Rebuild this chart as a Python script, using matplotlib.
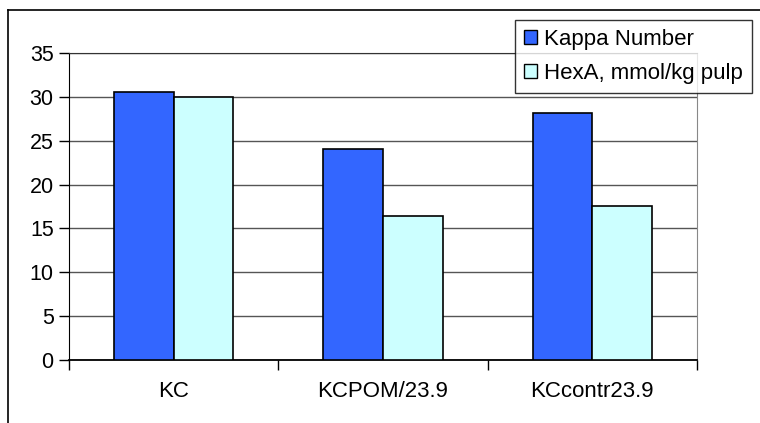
import matplotlib
matplotlib.use("Agg")
import matplotlib.pyplot as plt
from matplotlib.lines import Line2D
from matplotlib.patches import Patch
import numpy as np

categories = ["KC", "KCPOM/23.9", "KCcontr23.9"]
kappa_number = [30.6, 24.0, 28.2]
hexa_mmol = [30.0, 16.4, 17.6]
series_names = ["Kappa Number", "HexA, mmol/kg pulp"]
y_ticks = [0, 5, 10, 15, 20, 25, 30, 35]

plt.rcParams["font.family"] = ["Liberation Sans", "DejaVu Sans"]

W, H = 760, 423
fig = plt.figure(figsize=(W / 100, H / 100), dpi=100)
ax = fig.add_axes([69 / W, 1 - 360 / H, (697 - 69) / W, (360 - 53) / H])

x = np.arange(len(categories))
bw = 0.285
ax.bar(x - bw / 2, kappa_number, bw, color="#3366ff", edgecolor="black",
       linewidth=1.2, zorder=3)
ax.bar(x + bw / 2, hexa_mmol, bw, color="#ccffff", edgecolor="black",
       linewidth=1.2, zorder=3)

ax.set_xlim(-0.5, len(categories) - 0.5)
ax.set_ylim(0, 35)
ax.set_yticks(y_ticks)
ax.yaxis.grid(True, color="#555555", linewidth=1, zorder=0)
ax.tick_params(axis="y", labelsize=15.5, length=7, width=1, direction="out",
               pad=4)

# category ticks sit on the group boundaries, labels in the middle
ax.set_xticks(np.arange(len(categories) + 1) - 0.5)
ax.set_xticklabels([])
ax.set_xticks(x, minor=True)
ax.set_xticklabels(categories, minor=True)
ax.tick_params(axis="x", which="major", length=7, width=1, direction="out")
ax.tick_params(axis="x", which="minor", length=0, labelsize=16, pad=15)

ax.spines["left"].set_color("black")
ax.spines["bottom"].set_color("black")
ax.spines["bottom"].set_linewidth(1.3)
ax.spines["top"].set_color("#333333")
ax.spines["right"].set_color("#888888")

handles = [Patch(facecolor="#3366ff", edgecolor="black"),
           Patch(facecolor="#ccffff", edgecolor="black")]
leg = fig.legend(handles, series_names, loc="upper left",
                 bbox_to_anchor=(515 / W, 1 - 20 / H), fontsize=16,
                 frameon=True, fancybox=False, edgecolor="black",
                 handlelength=0.6, handleheight=0.6, handletextpad=0.3,
                 borderpad=0.4, labelspacing=0.6, borderaxespad=0)
leg.get_frame().set_linewidth(1)

# outer chart frame, only left and top edges fall inside the image
fig.add_artist(Line2D([8 / W, 8 / W], [0, 1 - 10 / H], color="black",
                      linewidth=1.2, transform=fig.transFigure))
fig.add_artist(Line2D([8 / W, 1], [1 - 10 / H, 1 - 10 / H], color="black",
                      linewidth=1.2, transform=fig.transFigure))

fig.savefig("out.png", dpi=100)
